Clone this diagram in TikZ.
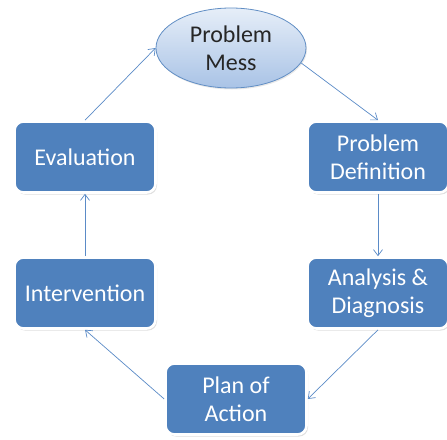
\documentclass[tikz,border=0pt]{standalone}
\usepackage{fontspec}
\setmainfont{Carlito}
\usetikzlibrary{shapes.geometric,arrows.meta,shadows}
\definecolor{boxblue}{HTML}{4F81BD}
\definecolor{linkblue}{HTML}{5B8BC7}
\definecolor{elltop}{HTML}{E6EEF8}
\definecolor{ellbot}{HTML}{A9C3E6}
\definecolor{shadowgray}{HTML}{BFBFBF}
\newcommand\diagfont{\fontsize{24pt}{28pt}\selectfont}
\begin{document}
\begin{tikzpicture}[x=1pt,y=-1pt,
  stagebox/.style={rectangle, rounded corners=9pt, fill=boxblue, draw=white, line width=2.6pt,
    minimum width=141pt, minimum height=71pt, text=white, align=center,
    font=\diagfont, inner sep=0pt,
    drop shadow={shadow xshift=1.5pt, shadow yshift=-2pt, fill=shadowgray, draw=none}},
  messell/.style={ellipse, top color=elltop, bottom color=ellbot, draw=boxblue!90, line width=0.8pt,
    minimum width=150pt, minimum height=80pt, inner sep=0pt,
    drop shadow={shadow xshift=1pt, shadow yshift=-1.5pt, fill=shadowgray!70, draw=none}},
  messtxt/.style={align=center, text=black!85, font=\diagfont, inner sep=0pt},
  link/.style={draw=linkblue, line width=0.7pt, -{Straight Barb[length=6pt,width=9pt]}}
]
\useasboundingbox (0,0) rectangle (447,439);
\node[messell] (mess) at (231,48) {};
\node[messtxt] (messlabel) at (mess.center) {Problem\\Mess};
\node[stagebox] (def) at (378,157) {Problem\\Definition};
\node[stagebox] (ana) at (378,293) {Analysis \&\\Diagnosis};
\node[stagebox] (plan) at (236,399) {Plan of\\Action};
\node[stagebox] (int) at (85,293) {Intervention};
\node[stagebox] (eval) at (85,157) {Evaluation};
\draw[link] (mess.-12) -- (def.north);
\draw[link] (def.south) -- (ana.north);
\draw[link] (ana.south) -- (plan.east);
\draw[link] (plan.west) -- (int.south);
\draw[link] (int.north) -- (eval.south);
\draw[link] (eval.north) -- (mess.west);
\end{tikzpicture}
\end{document}
